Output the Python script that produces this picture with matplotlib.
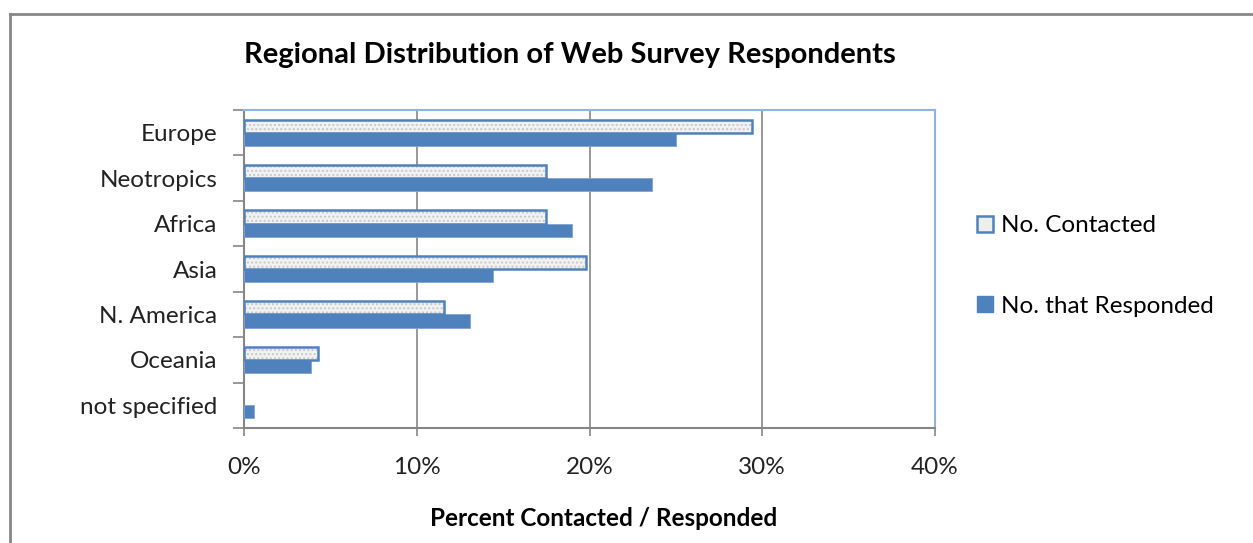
import matplotlib
matplotlib.use("Agg")
import matplotlib.pyplot as plt
from matplotlib.lines import Line2D
from matplotlib.patches import Patch
import numpy as np

categories = ["Europe", "Neotropics", "Africa", "Asia", "N. America", "Oceania", "not specified"]
contacted = [29.4, 17.5, 17.5, 19.8, 11.6, 4.3, 0.0]
responded = [25.0, 23.6, 19.0, 14.4, 13.1, 3.9, 0.6]
xticks = [0, 10, 20, 30, 40]
xtick_labels = ["0%", "10%", "20%", "30%", "40%"]

plt.rcParams['font.family'] = ['Lato', 'DejaVu Sans']
BLUE = '#4F81BD'
FS = 17.5

fig = plt.figure(figsize=(12.53, 5.43), dpi=100)
ax = fig.add_axes([244/1253, 1-428/543, (935-244)/1253, (428-110)/543])

n = len(categories)
ypos = np.arange(n)[::-1]
h = 0.29
lw_c = [1.8 if v > 0 else 0 for v in contacted]
# contacted: textured light fill + blue outline
ax.barh(ypos + h/2, contacted, height=h, color='#F2F2F2', edgecolor='#C8C8C8',
        hatch='....', linewidth=0, zorder=3)
ax.barh(ypos + h/2, contacted, height=h, facecolor='none', edgecolor=BLUE,
        linewidth=lw_c, zorder=4)
ax.barh(ypos - h/2, responded, height=h, color=BLUE, edgecolor='#7FA3D1',
        linewidth=0.6, zorder=3)

ax.set_xlim(0, 40)
ax.set_ylim(-0.5, n - 0.5)
ax.set_xticks(xticks)
ax.set_xticklabels(xtick_labels, fontsize=FS, color='#222222')
ax.set_yticks(ypos)
ax.set_yticklabels(categories, fontsize=FS, color='#222222')
ax.set_yticks(np.arange(n + 1) - 0.5, minor=True)
ax.tick_params(axis='y', which='major', length=0, pad=19)
ax.tick_params(axis='y', which='minor', length=8, width=1.2, color='#868686')
ax.tick_params(axis='x', which='major', length=6, width=1.2, color='#868686', pad=15)
ax.grid(axis='x', color='#868686', linewidth=1.2, zorder=0)
ax.set_axisbelow(True)
for s in ['left', 'bottom']:
    ax.spines[s].set_color('#868686')
    ax.spines[s].set_linewidth(1.5)
for s in ['top', 'right']:
    ax.spines[s].set_color('#8EB4E3')
    ax.spines[s].set_linewidth(1.5)

ax.set_xlabel("Percent Contacted / Responded", fontsize=FS, fontweight='bold')
ax.xaxis.set_label_coords((604-244)/691, -(519-428)/318)
ax.xaxis.label.set_va('center')

fig.text(570/1253, 1-55/543, "Regional Distribution of Web Survey Respondents",
         ha='center', va='center', fontsize=21, fontweight='bold')

handles = [Patch(facecolor='#EEEEEE', edgecolor=BLUE, linewidth=1.8),
           Patch(facecolor=BLUE, edgecolor=BLUE)]
fig.legend(handles, ["No. Contacted", "No. that Responded"], loc='center left',
           bbox_to_anchor=(965/1253, 1-266/543), frameon=False, fontsize=FS,
           labelspacing=2.45, handlelength=0.65, handleheight=0.65, handletextpad=0.35,
           borderpad=0)

# outer chart border
fig.add_artist(Line2D([10/1253, 10/1253], [0, 1-14/543], transform=fig.transFigure,
                      color='#878787', linewidth=2))
fig.add_artist(Line2D([10/1253, 1], [1-14/543, 1-14/543], transform=fig.transFigure,
                      color='#878787', linewidth=2))

fig.savefig("out.png", dpi=100)
